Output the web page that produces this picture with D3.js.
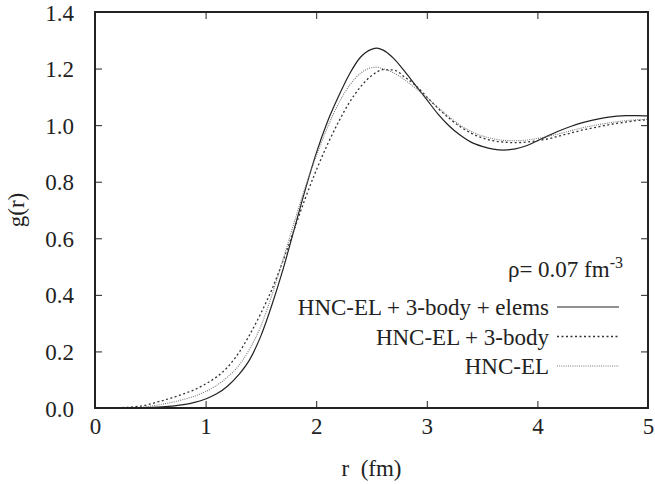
<!DOCTYPE html>
<html>
<head>
<meta charset="utf-8">
<script src="https://cdn.jsdelivr.net/npm/d3@7"></script>
<style>
  body { margin: 0; background: #fff; }
  svg text { font-family: "Liberation Serif", "Times New Roman", "DejaVu Serif", serif; fill: #222; }
  .axis path { display: none; }
  .axis line { stroke: #222; stroke-width: 1; }
</style>
</head>
<body>
<div id="chart"></div>
<script>
// radial grid (fm)
var rValues = [0, 0.2, 0.4, 0.6, 0.8, 0.9, 1.0, 1.1, 1.2, 1.3, 1.4, 1.5, 1.6, 1.7, 1.8, 1.9,
  2.0, 2.1, 2.2, 2.3, 2.4, 2.5, 2.55, 2.6, 2.7, 2.8, 2.9, 3.0, 3.1, 3.2, 3.3, 3.4, 3.5,
  3.6, 3.7, 3.8, 3.9, 4.0, 4.1, 4.2, 4.3, 4.4, 4.5, 4.6, 4.7, 4.8, 4.9, 5.0];

// g(r) for each approximation
var gElems = [0, 0, 0.001, 0.004, 0.012, 0.02, 0.032, 0.05, 0.078, 0.118, 0.172, 0.255, 0.365,
  0.49, 0.63, 0.77, 0.9, 1.01, 1.1, 1.18, 1.24, 1.268, 1.272, 1.266, 1.236, 1.19, 1.14,
  1.09, 1.04, 0.998, 0.965, 0.94, 0.925, 0.915, 0.912, 0.916, 0.927, 0.945, 0.963, 0.98,
  0.995, 1.008, 1.018, 1.026, 1.031, 1.034, 1.034, 1.033];
var g3body = [0, 0.001, 0.006, 0.025, 0.05, 0.065, 0.085, 0.11, 0.145, 0.195, 0.26, 0.335,
  0.42, 0.52, 0.63, 0.74, 0.84, 0.93, 1.01, 1.08, 1.135, 1.175, 1.188, 1.196, 1.195, 1.17,
  1.14, 1.1, 1.06, 1.025, 0.995, 0.972, 0.955, 0.945, 0.94, 0.938, 0.94, 0.945, 0.952,
  0.962, 0.972, 0.982, 0.99, 0.998, 1.005, 1.011, 1.016, 1.019];
var gHncEl = [0, 0, 0.002, 0.013, 0.03, 0.042, 0.058, 0.08, 0.11, 0.15, 0.21, 0.29, 0.4,
  0.525, 0.655, 0.78, 0.89, 0.99, 1.075, 1.14, 1.183, 1.203, 1.205, 1.2, 1.185, 1.16, 1.13,
  1.098, 1.063, 1.03, 1.0, 0.978, 0.962, 0.952, 0.946, 0.945, 0.947, 0.953, 0.961, 0.97,
  0.98, 0.99, 0.998, 1.005, 1.011, 1.016, 1.019, 1.021];

var seriesNames = ["HNC-EL + 3-body + elems", "HNC-EL + 3-body", "HNC-EL"];
var xTicks = [0, 1, 2, 3, 4, 5];
var yTicks = [0, 0.2, 0.4, 0.6, 0.8, 1.0, 1.2, 1.4];

var FONT = '"Liberation Serif", "Times New Roman", serif';
var FONT_SIZE = "23px";

var margin = {top: 12, right: 7, bottom: 76, left: 95},
    width = 655 - margin.left - margin.right,
    height = 484 - margin.top - margin.bottom;

var x = d3.scaleLinear().domain([0, 5]).range([0, width]);
var y = d3.scaleLinear().domain([0, 1.4]).range([height, 0]);

var svg = d3.select("#chart")
  .append("svg")
  .attr("width", 655)
  .attr("height", 484)
  .append("g")
  .attr("transform", "translate(" + margin.left + "," + margin.top + ")");

// axes with inward ticks, mirrored on top / right
svg.append("g")
  .attr("class", "axis")
  .attr("transform", "translate(0," + height + ")")
  .call(d3.axisBottom(x).tickValues(xTicks).tickSize(-7).tickPadding(18).tickFormat(d3.format("d")));
svg.append("g")
  .attr("class", "axis")
  .call(d3.axisTop(x).tickValues(xTicks).tickSize(-7).tickFormat(""));
svg.append("g")
  .attr("class", "axis")
  .call(d3.axisLeft(y).tickValues(yTicks).tickSize(-7).tickPadding(21).tickFormat(d3.format(".1f")));
svg.append("g")
  .attr("class", "axis")
  .attr("transform", "translate(" + width + ",0)")
  .call(d3.axisRight(y).tickValues(yTicks).tickSize(-7).tickFormat(""));

svg.selectAll(".axis")
  .attr("font-family", FONT)
  .attr("font-size", FONT_SIZE);
svg.selectAll(".axis text").attr("dy", "0.35em").attr("fill", "#222");

var line = d3.line()
  .x(function(d) { return x(d[0]); })
  .y(function(d) { return y(d[1]); })
  .curve(d3.curveMonotoneX);

var styles = [
  {stroke: "#222", dash: null, width: 1.2},
  {stroke: "#333", dash: "2,2.5", width: 1.3},
  {stroke: "#777", dash: "1,1.2", width: 1.1}
];
var allSeries = [gElems, g3body, gHncEl];

allSeries.forEach(function(vals, i) {
  svg.append("path")
    .datum(rValues.map(function(r, j) { return [r, vals[j]]; }))
    .attr("fill", "none")
    .attr("stroke", styles[i].stroke)
    .attr("stroke-width", styles[i].width)
    .attr("stroke-dasharray", styles[i].dash)
    .attr("d", line);
});

// frame
svg.append("rect")
  .attr("width", width)
  .attr("height", height)
  .attr("fill", "none")
  .attr("stroke", "#222")
  .attr("stroke-width", 2);

// axis titles
svg.append("text")
  .attr("x", width / 2)
  .attr("y", height + 68)
  .style("text-anchor", "middle")
  .style("white-space", "pre")
  .style("font-family", FONT)
  .style("font-size", FONT_SIZE)
  .text("r  (fm)");
svg.append("text")
  .attr("transform", "rotate(-90)")
  .attr("x", -height / 2)
  .attr("y", -71)
  .style("text-anchor", "middle")
  .style("font-family", FONT)
  .style("font-size", FONT_SIZE)
  .text("g(r)");

// density label
var rho = svg.append("text")
  .attr("x", 528)
  .attr("y", 265)
  .style("text-anchor", "end")
  .style("font-family", FONT)
  .style("font-size", FONT_SIZE);
rho.append("tspan").text("\u03c1= 0.07 fm");
rho.append("tspan").attr("dy", -9).style("font-size", "16px").text("-3");

// legend
var legend = svg.selectAll(".legend")
  .data(seriesNames)
  .enter()
  .append("g")
  .attr("class", "legend")
  .attr("transform", function(d, i) { return "translate(0," + (295 + i * 29.5) + ")"; });

legend.append("text")
  .attr("x", 454)
  .attr("dy", "0.35em")
  .style("text-anchor", "end")
  .style("font-family", FONT)
  .style("font-size", FONT_SIZE)
  .text(function(d) { return d; });

legend.append("line")
  .attr("x1", 462)
  .attr("x2", 524)
  .attr("stroke", function(d, i) { return styles[i].stroke; })
  .attr("stroke-width", function(d, i) { return styles[i].width; })
  .attr("stroke-dasharray", function(d, i) { return styles[i].dash; });
</script>
</body>
</html>
